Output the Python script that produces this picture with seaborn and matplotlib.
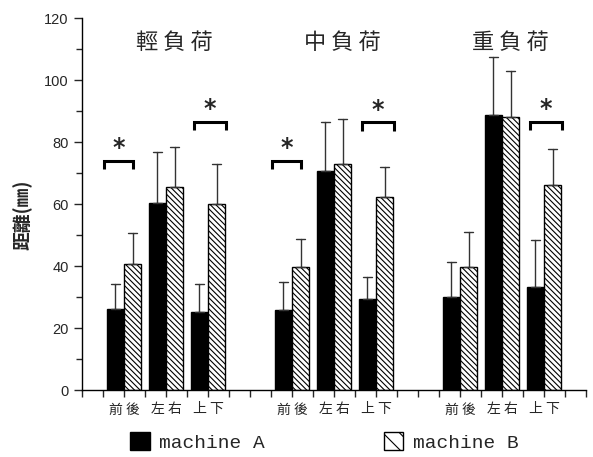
import numpy as np
import pandas as pd
import matplotlib
matplotlib.use("Agg")
import matplotlib.pyplot as plt
from matplotlib.patches import Patch
import seaborn as sns

# ---- data ----
groups = ["輕負荷", "中負荷", "重負荷"]
directions = ["前後", "左右", "上下"]
machines = ["machine A", "machine B"]
a_mean = [26.0, 60.3, 25.3, 25.7, 70.5, 29.5, 30.1, 88.8, 33.3]
a_err = [8.3, 16.4, 9.0, 9.2, 16.1, 6.9, 11.3, 18.7, 15.1]
b_mean = [40.6, 65.5, 59.9, 39.6, 72.8, 62.2, 39.6, 88.2, 66.2]
b_err = [10.0, 12.8, 12.9, 9.1, 14.5, 9.7, 11.5, 14.8, 11.4]
# significance brackets: (group index, direction index, bracket level)
sig_marks = [(0, 0, 73.9), (0, 2, 86.5), (1, 0, 74.0), (1, 2, 86.3), (2, 2, 86.5)]

# ---- build long table (two rows per bar: mean and mean+err) ----
rows = []
for gi, g in enumerate(groups):
    for di, d in enumerate(directions):
        k = gi * 3 + di
        pos = gi * 8 + di * 2 + 2
        for m, mean, err in ((machines[0], a_mean[k], a_err[k]),
                             (machines[1], b_mean[k], b_err[k])):
            rows.append(dict(pos=pos, group=g, direction=d, machine=m, value=mean))
            rows.append(dict(pos=pos, group=g, direction=d, machine=m, value=mean + err))
df = pd.DataFrame(rows)

sns.set_style("ticks")
plt.rcParams["hatch.linewidth"] = 0.8
plt.rcParams["font.family"] = ["Liberation Sans", "DejaVu Sans"]

fig = plt.figure(figsize=(5.93, 4.57), dpi=100)
ax = fig.add_axes([82 / 593, 67 / 457, 504 / 593, 372 / 457])

sns.barplot(data=df, x="pos", y="value", hue="machine", hue_order=machines,
            native_scale=True, estimator=np.min,
            errorbar=lambda v: (np.min(v), np.max(v)),
            palette={"machine A": "black", "machine B": "white"},
            saturation=1, width=0.83, edgecolor="black", linewidth=1,
            capsize=0.45, err_kws={"color": "#333333", "linewidth": 1},
            legend=False, ax=ax)

for p in ax.patches:
    if p.get_facecolor()[0] > 0.5:
        p.set_hatch("\\\\\\\\\\\\")

ax.set_xlim(0, 24)
ax.set_ylim(0, 120)
ax.set_xlabel("")
ax.set_ylabel("距離(㎜)", fontsize=13.5, fontweight="bold",
              family=["Noto Sans CJK TC", "DejaVu Sans"])
ax.yaxis.set_label_coords(-0.098, 0.47)

centers = [gi * 8 + di * 2 + 2 for gi in range(3) for di in range(3)]
ax.set_xticks(centers)
ax.set_xticklabels([" ".join(d) for _ in groups for d in directions],
                   family=["Noto Sans CJK TC", "DejaVu Sans"], fontsize=10)
ax.set_xticks(np.arange(0, 25, 1), minor=True)
ax.set_yticks(np.arange(0, 121, 20))
ax.set_yticks(np.arange(0, 121, 10), minor=True)
ax.tick_params(axis="y", which="major", length=6, width=1, labelsize=10.5, direction="out")
ax.tick_params(axis="y", which="minor", length=4, width=1, direction="out")
ax.tick_params(axis="x", which="both", length=5, width=1, direction="out", pad=4)
for s in ("top", "right"):
    ax.spines[s].set_visible(False)
for s in ("left", "bottom"):
    ax.spines[s].set_linewidth(1)
    ax.spines[s].set_color("black")

# group titles
for gi, g in enumerate(groups):
    ax.text(gi * 8 + 4.4, 112, " ".join(g), ha="center", va="center", fontsize=16,
            family=["Noto Sans CJK TC", "DejaVu Sans"])

# significance brackets
for gi, di, lvl in sig_marks:
    c = gi * 8 + di * 2 + 2
    if di == 0:
        x0, x1 = c - 0.95, c + 0.45
    else:
        x0, x1 = c - 0.65, c + 0.85
    ax.plot([x0, x0, x1, x1], [lvl - 2.6, lvl, lvl, lvl - 2.6], color="black",
            lw=2.2, solid_joinstyle="miter", solid_capstyle="butt", clip_on=False)
    ax.text((x0 + x1) / 2, lvl + 0.3, "*", ha="center", va="bottom",
            fontsize=17, fontweight="bold", family="DejaVu Sans")

handles = [Patch(facecolor="black", edgecolor="black"),
           Patch(facecolor="white", edgecolor="black", hatch="\\\\")]
fig.legend(handles, machines, loc="center", bbox_to_anchor=(0.547, 0.033), ncol=2,
           frameon=False, prop={"family": "Liberation Mono", "size": 14},
           handlelength=1.0, handleheight=1.0, columnspacing=6.1, handletextpad=0.5)

fig.savefig("out.png", dpi=100)
